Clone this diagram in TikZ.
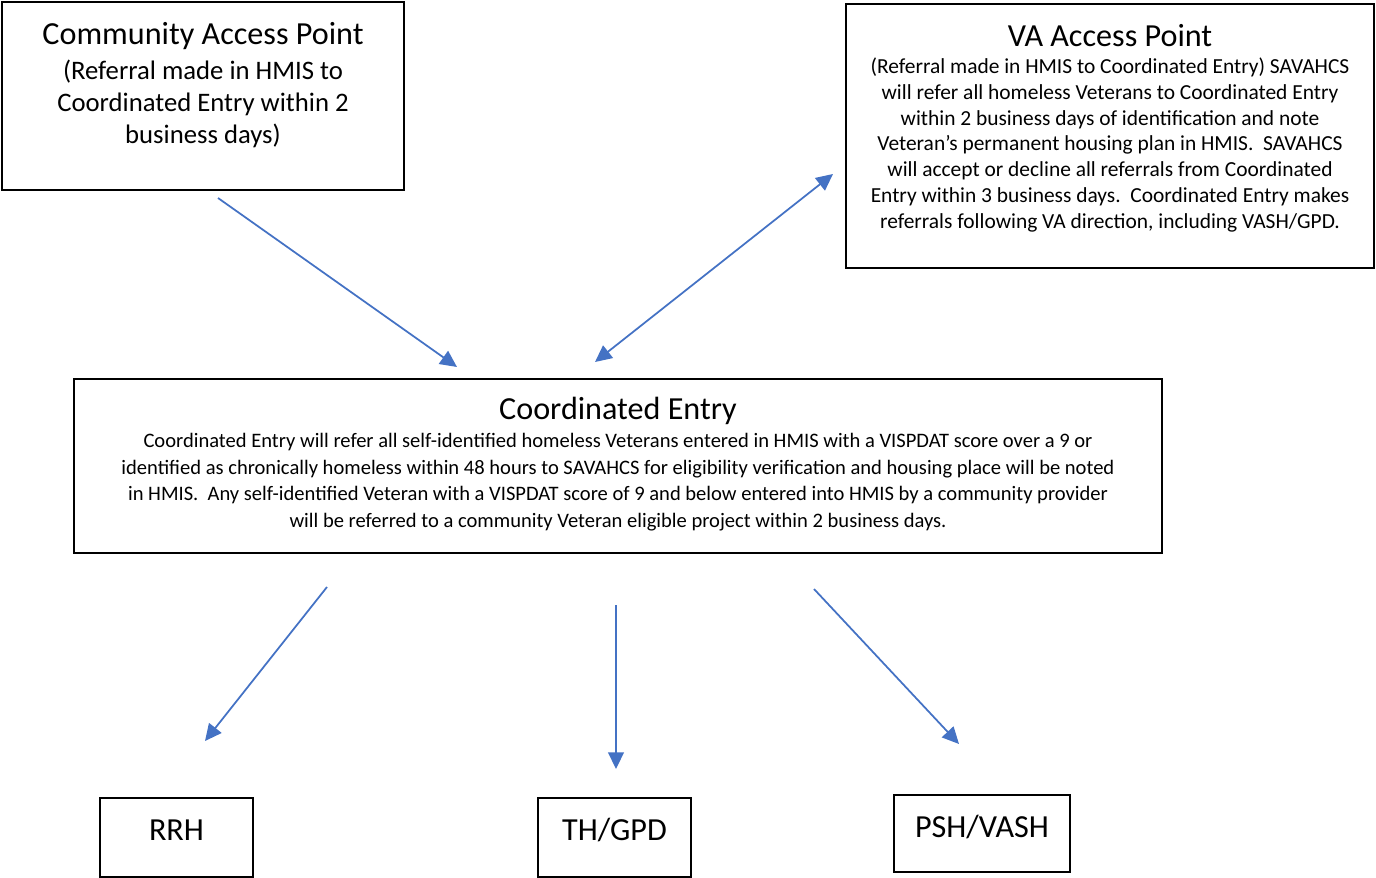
\documentclass[tikz,border=0pt]{standalone}
\usepackage{fontspec}
\setmainfont{Carlito}
\usetikzlibrary{arrows.meta}
\definecolor{flowblue}{RGB}{68,114,196}

\begin{document}
\begin{tikzpicture}[
  x=0.02cm, y=-0.02cm,
  box/.style={draw=black,line width=1pt,inner sep=0pt},
  headline/.style={font=\fontsize{18.3}{22}\selectfont,align=center,inner sep=0pt},
  body/.style={align=center,inner sep=0pt},
  flow/.style={flowblue,line width=1pt,-{Triangle[length=9.5pt,width=9pt]}},
  >={Triangle[length=9.5pt,width=9pt]}
]
  \useasboundingbox (0,0) rectangle (1376,878);

  % boxes
  \node[box,minimum width=8.04cm,minimum height=3.76cm] (community) at (203,96) {};
  \node[box,minimum width=10.56cm,minimum height=5.28cm] (va) at (1110,136) {};
  \node[box,minimum width=21.76cm,minimum height=3.48cm] (ce) at (618,466) {};
  \node[box,minimum width=3.06cm,minimum height=1.58cm] (rrh) at (176.5,837.5) {};
  \node[box,minimum width=3.06cm,minimum height=1.58cm] (thgpd) at (614.5,837.5) {};
  \node[box,minimum width=3.52cm,minimum height=1.54cm] (pshvash) at (982,833.5) {};

  % texts
  \node[headline] (communityhead) at (203,36) {Community Access Point};
  \node[body,font=\fontsize{15.2}{18.1}\selectfont] (communitytext) at (203,104)
    {(Referral made in HMIS to\\Coordinated Entry within 2\\business days)};

  \node[headline] (vahead) at (1110,36) {VA Access Point};
  \node[body,font=\fontsize{12.2}{14.75}\selectfont] (vatext) at (1110,145)
    {(Referral made in HMIS to Coordinated Entry) SAVAHCS\\
     will refer all homeless Veterans to Coordinated Entry\\
     within 2 business days of identification and note\\
     Veteran’s permanent housing plan in HMIS.\ \ SAVAHCS\\
     will accept or decline all referrals from Coordinated\\
     Entry within 3 business days.\ \ Coordinated Entry makes\\
     referrals following VA direction, including VASH/GPD.};

  \node[headline] (cehead) at (618,411) {Coordinated Entry};
  \node[body,font=\fontsize{11.7}{15.1}\selectfont] (cetext) at (618,482)
    {Coordinated Entry will refer all self-identified homeless Veterans entered in HMIS with a VISPDAT score over a 9 or\\
     identified as chronically homeless within 48 hours to SAVAHCS for eligibility verification and housing place will be noted\\
     in HMIS.\ \ Any self-identified Veteran with a VISPDAT score of 9 and below entered into HMIS by a community provider\\
     will be referred to a community Veteran eligible project within 2 business days.};

  \node[headline] (rrhlabel) at (176.5,830) {RRH};
  \node[headline] (thgpdlabel) at (614.5,830) {TH/GPD};
  \node[headline] (pshvashlabel) at (982,827) {PSH/VASH};

  % connector ends
  \coordinate (c1a) at (218,198);
  \coordinate (c1b) at (457,367);
  \coordinate (c2a) at (595,362);
  \coordinate (c2b) at (833,174);
  \coordinate (c3a) at (327,587);
  \coordinate (c3b) at (205,741);
  \coordinate (c4a) at (616,605);
  \coordinate (c4b) at (616,769);
  \coordinate (c5a) at (814,589);
  \coordinate (c5b) at (959,744);

  \draw[flow] (c1a) -- (c1b);
  \draw[flow,<->] (c2a) -- (c2b);
  \draw[flow] (c3a) -- (c3b);
  \draw[flow] (c4a) -- (c4b);
  \draw[flow] (c5a) -- (c5b);
\end{tikzpicture}
\end{document}
